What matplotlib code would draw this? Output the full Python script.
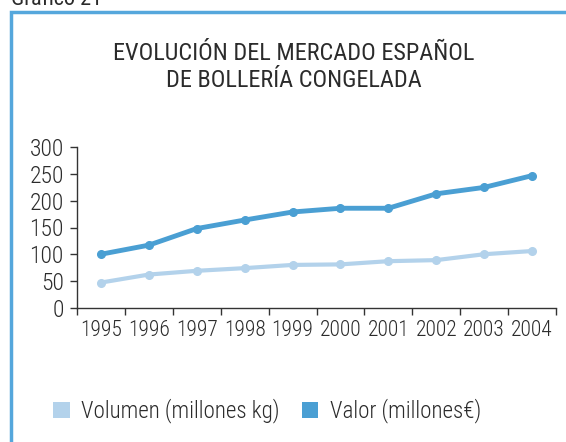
import matplotlib
matplotlib.use("Agg")
import matplotlib.pyplot as plt
from matplotlib.lines import Line2D
from matplotlib.patches import Patch

plt.rcParams['font.family'] = ['Roboto Condensed', 'DejaVu Sans']

# --- DATA ---
years = ['1995', '1996', '1997', '1998', '1999', '2000', '2001', '2002', '2003', '2004']
volumen = [47, 62, 69, 74, 80, 81, 87, 89, 100, 106]
valor = [100, 117, 148, 164, 179, 186, 186, 213, 225, 247]

light_blue = '#b3d2eb'
dark_blue = '#4a9fd3'
frame_blue = '#55a7dc'
text_col = '#2b2b2b'

W, H = 566, 442
fig = plt.figure(figsize=(W / 100, H / 100), dpi=100)

# axes placed in pixel terms
left, right, top, bottom = 77, 556, 147.3, 307.7
ax = fig.add_axes([left / W, 1 - bottom / H, (right - left) / W, (bottom - top) / H])

x = list(range(len(years)))
ax.plot(x, volumen, color=light_blue, lw=3, marker='o', ms=5.5, solid_capstyle='round')
ax.plot(x, valor, color=dark_blue, lw=3.5, marker='o', ms=5.5, solid_capstyle='round')

ax.set_xlim(-0.5, len(years) - 0.5)
ax.set_ylim(0, 300)
ax.set_yticks(range(0, 301, 50))
ax.set_xticks(x)
ax.set_xticklabels(years)
ax.set_xticks([i - 0.5 for i in range(len(years) + 1)], minor=True)
ax.tick_params(axis='x', which='major', length=0, pad=9, labelsize=15.5, labelcolor=text_col)
ax.tick_params(axis='x', which='minor', length=5, width=1, color='#333333')
ax.tick_params(axis='y', length=5, width=1, color='#333333', pad=4.5, labelsize=17, labelcolor=text_col)
for lab in ax.get_xticklabels() + ax.get_yticklabels():
    lab.set_fontweight('light')

for s in ['top', 'right']:
    ax.spines[s].set_visible(False)
for s in ['left', 'bottom']:
    ax.spines[s].set_color('#333333')
    ax.spines[s].set_linewidth(1)

# title
fig.text(294 / W, 1 - 67 / H, 'EVOLUCIÓN DEL MERCADO ESPAÑOL\nDE BOLLERÍA CONGELADA',
         ha='center', va='center', fontsize=17.5, color=text_col, linespacing=1.2)

# header, cut off at the top
fig.text(11 / W, 1 - 5 / H, 'Gráfico 21', ha='left', va='baseline', fontsize=16, color=text_col)

# blue frame
fig.add_artist(Line2D([10.5 / W, 10.5 / W, 1.0], [0.0, 1 - 12 / H, 1 - 12 / H],
                      transform=fig.transFigure, color=frame_blue, lw=2.5, solid_joinstyle='miter'))

# legend
handles = [Patch(facecolor=light_blue, edgecolor='none'),
           Patch(facecolor=dark_blue, edgecolor='none')]
leg = fig.legend(handles, ['Volumen (millones kg)', 'Valor (millones€)'],
                 loc='center', bbox_to_anchor=(267 / W, 1 - 411 / H), ncol=2, frameon=False,
                 fontsize=16.6, handlelength=0.72, handleheight=0.72, handletextpad=0.5,
                 columnspacing=0.95, labelcolor=text_col)
for t in leg.get_texts():
    t.set_fontweight('light')

fig.savefig('out.png', dpi=100)
